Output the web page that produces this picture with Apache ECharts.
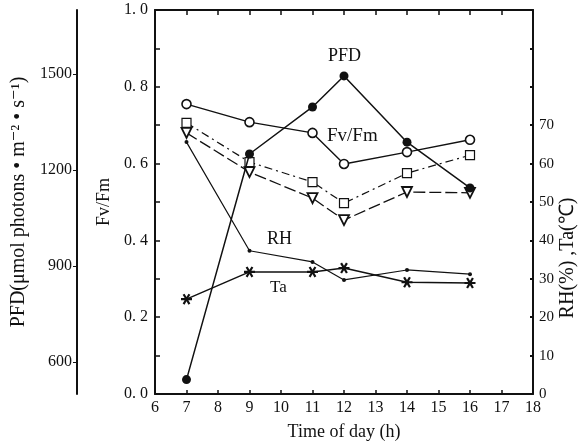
<!DOCTYPE html>
<html>
<head>
<meta charset="utf-8">
<script src="https://cdn.jsdelivr.net/npm/echarts@6/dist/echarts.min.js"></script>
<style>
  html, body { margin: 0; padding: 0; background: #fff; }
  #chart { width: 585px; height: 446px; }
</style>
</head>
<body>
<div id="chart"></div>
<script>
// Diurnal course of light, air conditions and PSII efficiency
const hours = [7, 9, 11, 12, 14, 16];
const pfd = [545, 1250, 1397, 1494, 1287, 1144];
const fvfmCircle = [0.755, 0.708, 0.680, 0.599, 0.630, 0.662];
const fvfmSquare = [0.706, 0.604, 0.552, 0.497, 0.575, 0.622];
const fvfmTriangle = [0.680, 0.578, 0.510, 0.453, 0.526, 0.524];
const rh = [65.6, 37.3, 34.4, 29.7, 32.3, 31.2];
const ta = [24.7, 31.8, 31.8, 32.8, 29.1, 28.9];

const pfdTicks = [600, 900, 1200, 1500];
const rhTickLabels = [0, 10, 20, 30, 40, 50, 60, 70];

const serif = "'Liberation Serif', 'DejaVu Serif', serif";
const ink = '#111';

const pairs = (ys) => hours.map((h, i) => [h, ys[i]]);

const asterisk = 'path://M-1,-5 L1,-5 L1,-1.7 L4,-3.5 L5,-1.8 L2,0 L5,1.8 L4,3.5 L1,1.7 L1,5 L-1,5 L-1,1.7 L-4,3.5 L-5,1.8 L-2,0 L-5,-1.8 L-4,-3.5 L-1,-1.7 Z';

const chart = echarts.init(document.getElementById('chart'));

chart.setOption({
  animation: false,
  backgroundColor: '#fff',
  textStyle: { fontFamily: serif, color: ink },
  grid: { left: 155, right: 52, top: 10, bottom: 52, outerBoundsMode: 'none', containLabel: false },
  xAxis: [
    {
      type: 'value', min: 6, max: 18, interval: 1, position: 'bottom',
      axisLine: { show: true, onZero: false, lineStyle: { color: ink, width: 2 } },
      axisTick: { show: true, inside: true, length: 4, lineStyle: { color: ink, width: 1.5 } },
      axisLabel: { color: ink, fontFamily: serif, fontSize: 16, margin: 6 },
      splitLine: { show: false },
      name: 'Time of day (h)', nameLocation: 'middle', nameGap: 29,
      nameTextStyle: { color: ink, fontFamily: serif, fontSize: 18 }
    },
    {
      type: 'value', min: 6, max: 18, interval: 1, position: 'top',
      axisLine: { show: true, onZero: false, lineStyle: { color: ink, width: 2 } },
      axisTick: { show: true, inside: true, length: 5, lineStyle: { color: ink, width: 1.5 } },
      axisLabel: { show: false },
      splitLine: { show: false }
    }
  ],
  yAxis: [
    {
      // Fv/Fm
      type: 'value', min: 0, max: 1, interval: 0.1, position: 'left',
      axisLine: { show: true, onZero: false, lineStyle: { color: ink, width: 2 } },
      axisTick: { show: true, inside: true, length: 5, lineStyle: { color: ink, width: 1.5 } },
      axisLabel: {
        color: ink, fontFamily: serif, fontSize: 16, margin: 7,
        formatter: (v) => (Math.round(v * 10) % 2 === 0) ? v.toFixed(1).replace('.', '. ') : ''
      },
      splitLine: { show: false },
      name: 'Fv/Fm', nameLocation: 'middle', nameGap: 42, nameRotate: 90,
      nameTextStyle: { color: ink, fontFamily: serif, fontSize: 18 }
    },
    {
      // PFD
      type: 'value', min: 500, max: 1700, position: 'left', offset: 78,
      axisLine: { show: true, onZero: false, lineStyle: { color: ink, width: 2 } },
      axisTick: { show: true, inside: false, length: 4, customValues: pfdTicks, lineStyle: { color: ink, width: 1 } },
      axisLabel: {
        color: ink, fontFamily: serif, fontSize: 16, margin: 5, customValues: pfdTicks,
        formatter: (v) => String(v)
      },
      splitLine: { show: false },
      name: 'PFD(μmol photons • m⁻² • s⁻¹)', nameLocation: 'middle', nameGap: 46, nameRotate: 90,
      nameTextStyle: { color: ink, fontFamily: serif, fontSize: 20 }
    },
    {
      // RH and Ta
      type: 'value', min: 0, max: 100, interval: 10, position: 'right',
      axisLine: { show: true, onZero: false, lineStyle: { color: ink, width: 2 } },
      axisTick: { show: true, inside: true, length: 3, lineStyle: { color: ink, width: 2 } },
      axisLabel: {
        color: ink, fontFamily: serif, fontSize: 15, margin: 6,
        formatter: (v) => rhTickLabels.includes(v) ? String(v) : ''
      },
      splitLine: { show: false }
    }
  ],
  series: [
    {
      name: 'PFD', type: 'line', yAxisIndex: 1, data: pairs(pfd),
      symbol: 'circle', symbolSize: 9,
      itemStyle: { color: ink },
      lineStyle: { color: ink, width: 1.5 }, z: 5
    },
    {
      name: 'Fv/Fm', type: 'line', yAxisIndex: 0, data: pairs(fvfmCircle),
      symbol: 'circle', symbolSize: 9,
      itemStyle: { color: '#fff', borderColor: ink, borderWidth: 1.6 },
      lineStyle: { color: ink, width: 1.4 }, z: 4
    },
    {
      name: 'Fv/Fm square', type: 'line', yAxisIndex: 0, data: pairs(fvfmSquare),
      symbol: 'rect', symbolSize: 9,
      itemStyle: { color: '#fff', borderColor: ink, borderWidth: 1.2 },
      lineStyle: { color: ink, width: 1.2, type: [8, 4, 2, 4] }, z: 4
    },
    {
      name: 'Fv/Fm triangle', type: 'line', yAxisIndex: 0, data: pairs(fvfmTriangle),
      symbol: 'triangle', symbolRotate: 180, symbolSize: 10,
      itemStyle: { color: '#fff', borderColor: ink, borderWidth: 1.8 },
      lineStyle: { color: ink, width: 1.3, type: [12, 4] }, z: 4
    },
    {
      name: 'RH', type: 'line', yAxisIndex: 2, data: pairs(rh),
      symbol: 'circle', symbolSize: 4,
      itemStyle: { color: ink },
      lineStyle: { color: ink, width: 1.2 }, z: 3
    },
    {
      name: 'Ta', type: 'line', yAxisIndex: 2, data: pairs(ta),
      symbol: asterisk, symbolRotate: 90, symbolSize: 11,
      itemStyle: { color: ink },
      lineStyle: { color: ink, width: 1.5 }, z: 3
    }
  ],
  graphic: [
    { type: 'text', left: 328, top: 47, style: { text: 'PFD', font: "18px 'Liberation Serif', serif", fill: ink } },
    { type: 'text', left: 327, top: 127, style: { text: 'Fv/Fm', font: "19px 'Liberation Serif', serif", fill: ink } },
    { type: 'text', left: 267, top: 230, style: { text: 'RH', font: "18px 'Liberation Serif', serif", fill: ink } },
    { type: 'text', left: 270, top: 279, style: { text: 'Ta', font: "17px 'Liberation Serif', serif", fill: ink } },
    {
      type: 'text', x: 568, y: 258, rotation: Math.PI / 2,
      style: { text: 'RH(%) ,Ta(℃)', font: "20px 'Liberation Serif', serif", fill: ink, align: 'center', verticalAlign: 'middle' }
    }
  ]
});
</script>
</body>
</html>
